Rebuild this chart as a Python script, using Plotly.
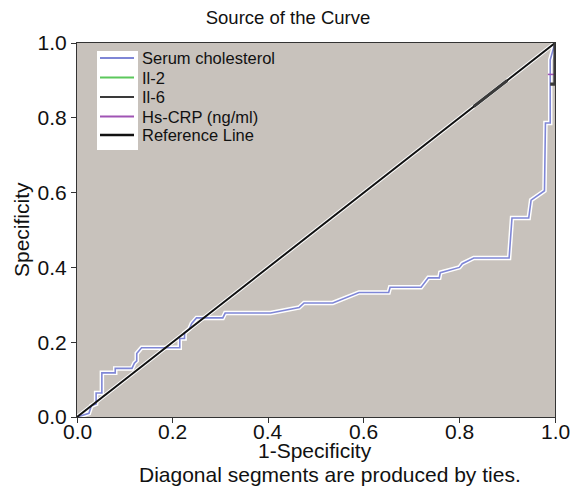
import plotly.graph_objects as go

# ---- data ----
series_names = ["Serum cholesterol", "Il-2", "Il-6", "Hs-CRP (ng/ml)", "Reference Line"]
series_colors = ["#7f86d6", "#5cc85c", "#3a3a3a", "#a054b4", "#111111"]

serum_x = [0.0, 0.025, 0.03, 0.04, 0.04, 0.052, 0.052, 0.08, 0.08, 0.115, 0.12, 0.125, 0.125,
           0.135, 0.215, 0.215, 0.225, 0.225, 0.235, 0.24, 0.25, 0.305, 0.31, 0.405, 0.465,
           0.475, 0.535, 0.59, 0.652, 0.655, 0.72, 0.735, 0.758, 0.76, 0.80, 0.806, 0.83,
           0.904, 0.91, 0.945, 0.95, 0.978, 0.98, 0.99, 0.99, 1.0]
serum_y = [0.0, 0.01, 0.03, 0.035, 0.064, 0.064, 0.118, 0.118, 0.13, 0.13, 0.144, 0.15, 0.17,
           0.185, 0.185, 0.21, 0.21, 0.225, 0.235, 0.25, 0.265, 0.265, 0.278, 0.278, 0.293,
           0.305, 0.305, 0.333, 0.333, 0.347, 0.347, 0.372, 0.372, 0.386, 0.40, 0.41, 0.425,
           0.425, 0.532, 0.532, 0.58, 0.605, 0.786, 0.786, 0.955, 1.0]

il2_x = [1.0, 1.0]
il2_y = [0.89, 1.0]

il6_x = [0.83, 0.90, None, 0.99, 1.0, 1.0]
il6_y = [0.83, 0.90, None, 0.89, 0.89, 1.0]

crp_x = [0.985, 1.0]
crp_y = [0.916, 0.916]

ref_x = [0.0, 1.0]
ref_y = [0.0, 1.0]

x_ticks = [0.0, 0.2, 0.4, 0.6, 0.8, 1.0]
x_tick_labels = ["0.0", "0.2", "0.4", "0.6", "0.8", "1.0"]
y_ticks = [0.0, 0.2, 0.4, 0.6, 0.8, 1.0]
y_tick_labels = ["0.0", "0.2", "0.4", "0.6", "0.8", "1.0"]

# ---- figure ----
W, H = 574, 491
L, R, T, B = 77, 19, 43, 74
pw, ph = W - L - R, H - T - B

def px_x(p):
    return (p - L) / pw

def px_y(p):
    return (H - B - p) / ph

fig = go.Figure()

# halos
fig.add_trace(go.Scatter(x=ref_x, y=ref_y, mode="lines",
                         line=dict(color="white", width=4), hoverinfo="skip", showlegend=False))
fig.add_trace(go.Scatter(x=serum_x, y=serum_y, mode="lines",
                         line=dict(color="white", width=4.5), hoverinfo="skip", showlegend=False))

fig.add_trace(go.Scatter(x=serum_x, y=serum_y, mode="lines", name=series_names[0],
                         line=dict(color=series_colors[0], width=1.6), showlegend=False))
fig.add_trace(go.Scatter(x=il2_x, y=il2_y, mode="lines", name=series_names[1],
                         line=dict(color=series_colors[1], width=1.5), showlegend=False))
fig.add_trace(go.Scatter(x=crp_x, y=crp_y, mode="lines", name=series_names[3],
                         line=dict(color=series_colors[3], width=1.5), showlegend=False))
fig.add_trace(go.Scatter(x=ref_x, y=ref_y, mode="lines", name=series_names[4],
                         line=dict(color=series_colors[4], width=2), showlegend=False))
fig.add_trace(go.Scatter(x=il6_x, y=il6_y, mode="lines", name=series_names[2],
                         line=dict(color=series_colors[2], width=3.2), showlegend=False))

shapes = []
annotations = []

# manual legend
shapes.append(dict(type="rect", xref="paper", yref="paper",
                   x0=px_x(97), x1=px_x(138), y0=px_y(150), y1=px_y(51),
                   fillcolor="white", line=dict(width=0), layer="above"))
rows = [58, 77.5, 97, 116.5, 135]
for name, col, yy in zip(series_names, series_colors, rows):
    w = 2.5 if name == "Reference Line" else 2
    shapes.append(dict(type="line", xref="paper", yref="paper",
                       x0=px_x(100), x1=px_x(134), y0=px_y(yy), y1=px_y(yy),
                       line=dict(color=col, width=w), layer="above"))
    annotations.append(dict(text=name, xref="paper", yref="paper",
                            x=px_x(140), y=px_y(yy), xanchor="left", yanchor="middle",
                            showarrow=False, font=dict(size=16.5, color="#111")))

# x tick labels placed close under the axis
for v, lab in zip(x_ticks, x_tick_labels):
    annotations.append(dict(text=lab, xref="x", yref="paper", x=v, y=px_y(431),
                            xanchor="center", yanchor="middle", showarrow=False,
                            font=dict(size=21, color="#111")))

# axis titles and footnote
annotations.append(dict(text="1-Specificity", xref="paper", yref="paper",
                        x=px_x(315), y=px_y(451), xanchor="center", yanchor="middle",
                        showarrow=False, font=dict(size=21, color="#111")))
annotations.append(dict(text="Diagonal segments are produced by ties.", xref="paper", yref="paper",
                        x=px_x(330), y=px_y(474), xanchor="center", yanchor="middle",
                        showarrow=False, font=dict(size=21, color="#111")))
annotations.append(dict(text="Specificity", xref="paper", yref="paper",
                        x=px_x(21), y=px_y(230), xanchor="center", yanchor="middle",
                        textangle=-90, showarrow=False, font=dict(size=21, color="#111")))

fig.update_layout(
    width=W, height=H,
    margin=dict(l=L, r=R, t=T, b=B, pad=0, autoexpand=False),
    paper_bgcolor="white",
    plot_bgcolor="#c8c2bc",
    font=dict(family="Liberation Sans, Arial, sans-serif", color="#111"),
    title=dict(text="Source of the Curve", x=288 / W, xanchor="center",
               y=1 - 18 / H, yanchor="middle", font=dict(size=18.5, color="#111")),
    shapes=shapes,
    annotations=annotations,
    showlegend=False,
)

fig.update_xaxes(range=[0, 1], tickvals=x_ticks, showticklabels=False,
                 ticks="outside", ticklen=5, tickcolor="#333", tickwidth=1.2,
                 showline=True, linecolor="#333", linewidth=1.2, mirror=True, automargin=False,
                 showgrid=False, zeroline=False)
fig.update_yaxes(range=[0, 1], tickvals=y_ticks, ticktext=y_tick_labels,
                 ticks="outside", ticklen=5, tickcolor="#333", tickwidth=1.2,
                 showline=True, linecolor="#333", linewidth=1.2, mirror=True, automargin=False,
                 showgrid=False, zeroline=False, tickfont=dict(size=21, color="#111"))

fig.write_html("out.html", config={"displayModeBar": False},
               post_script="document.body.style.margin='0';document.body.style.padding='0';")
